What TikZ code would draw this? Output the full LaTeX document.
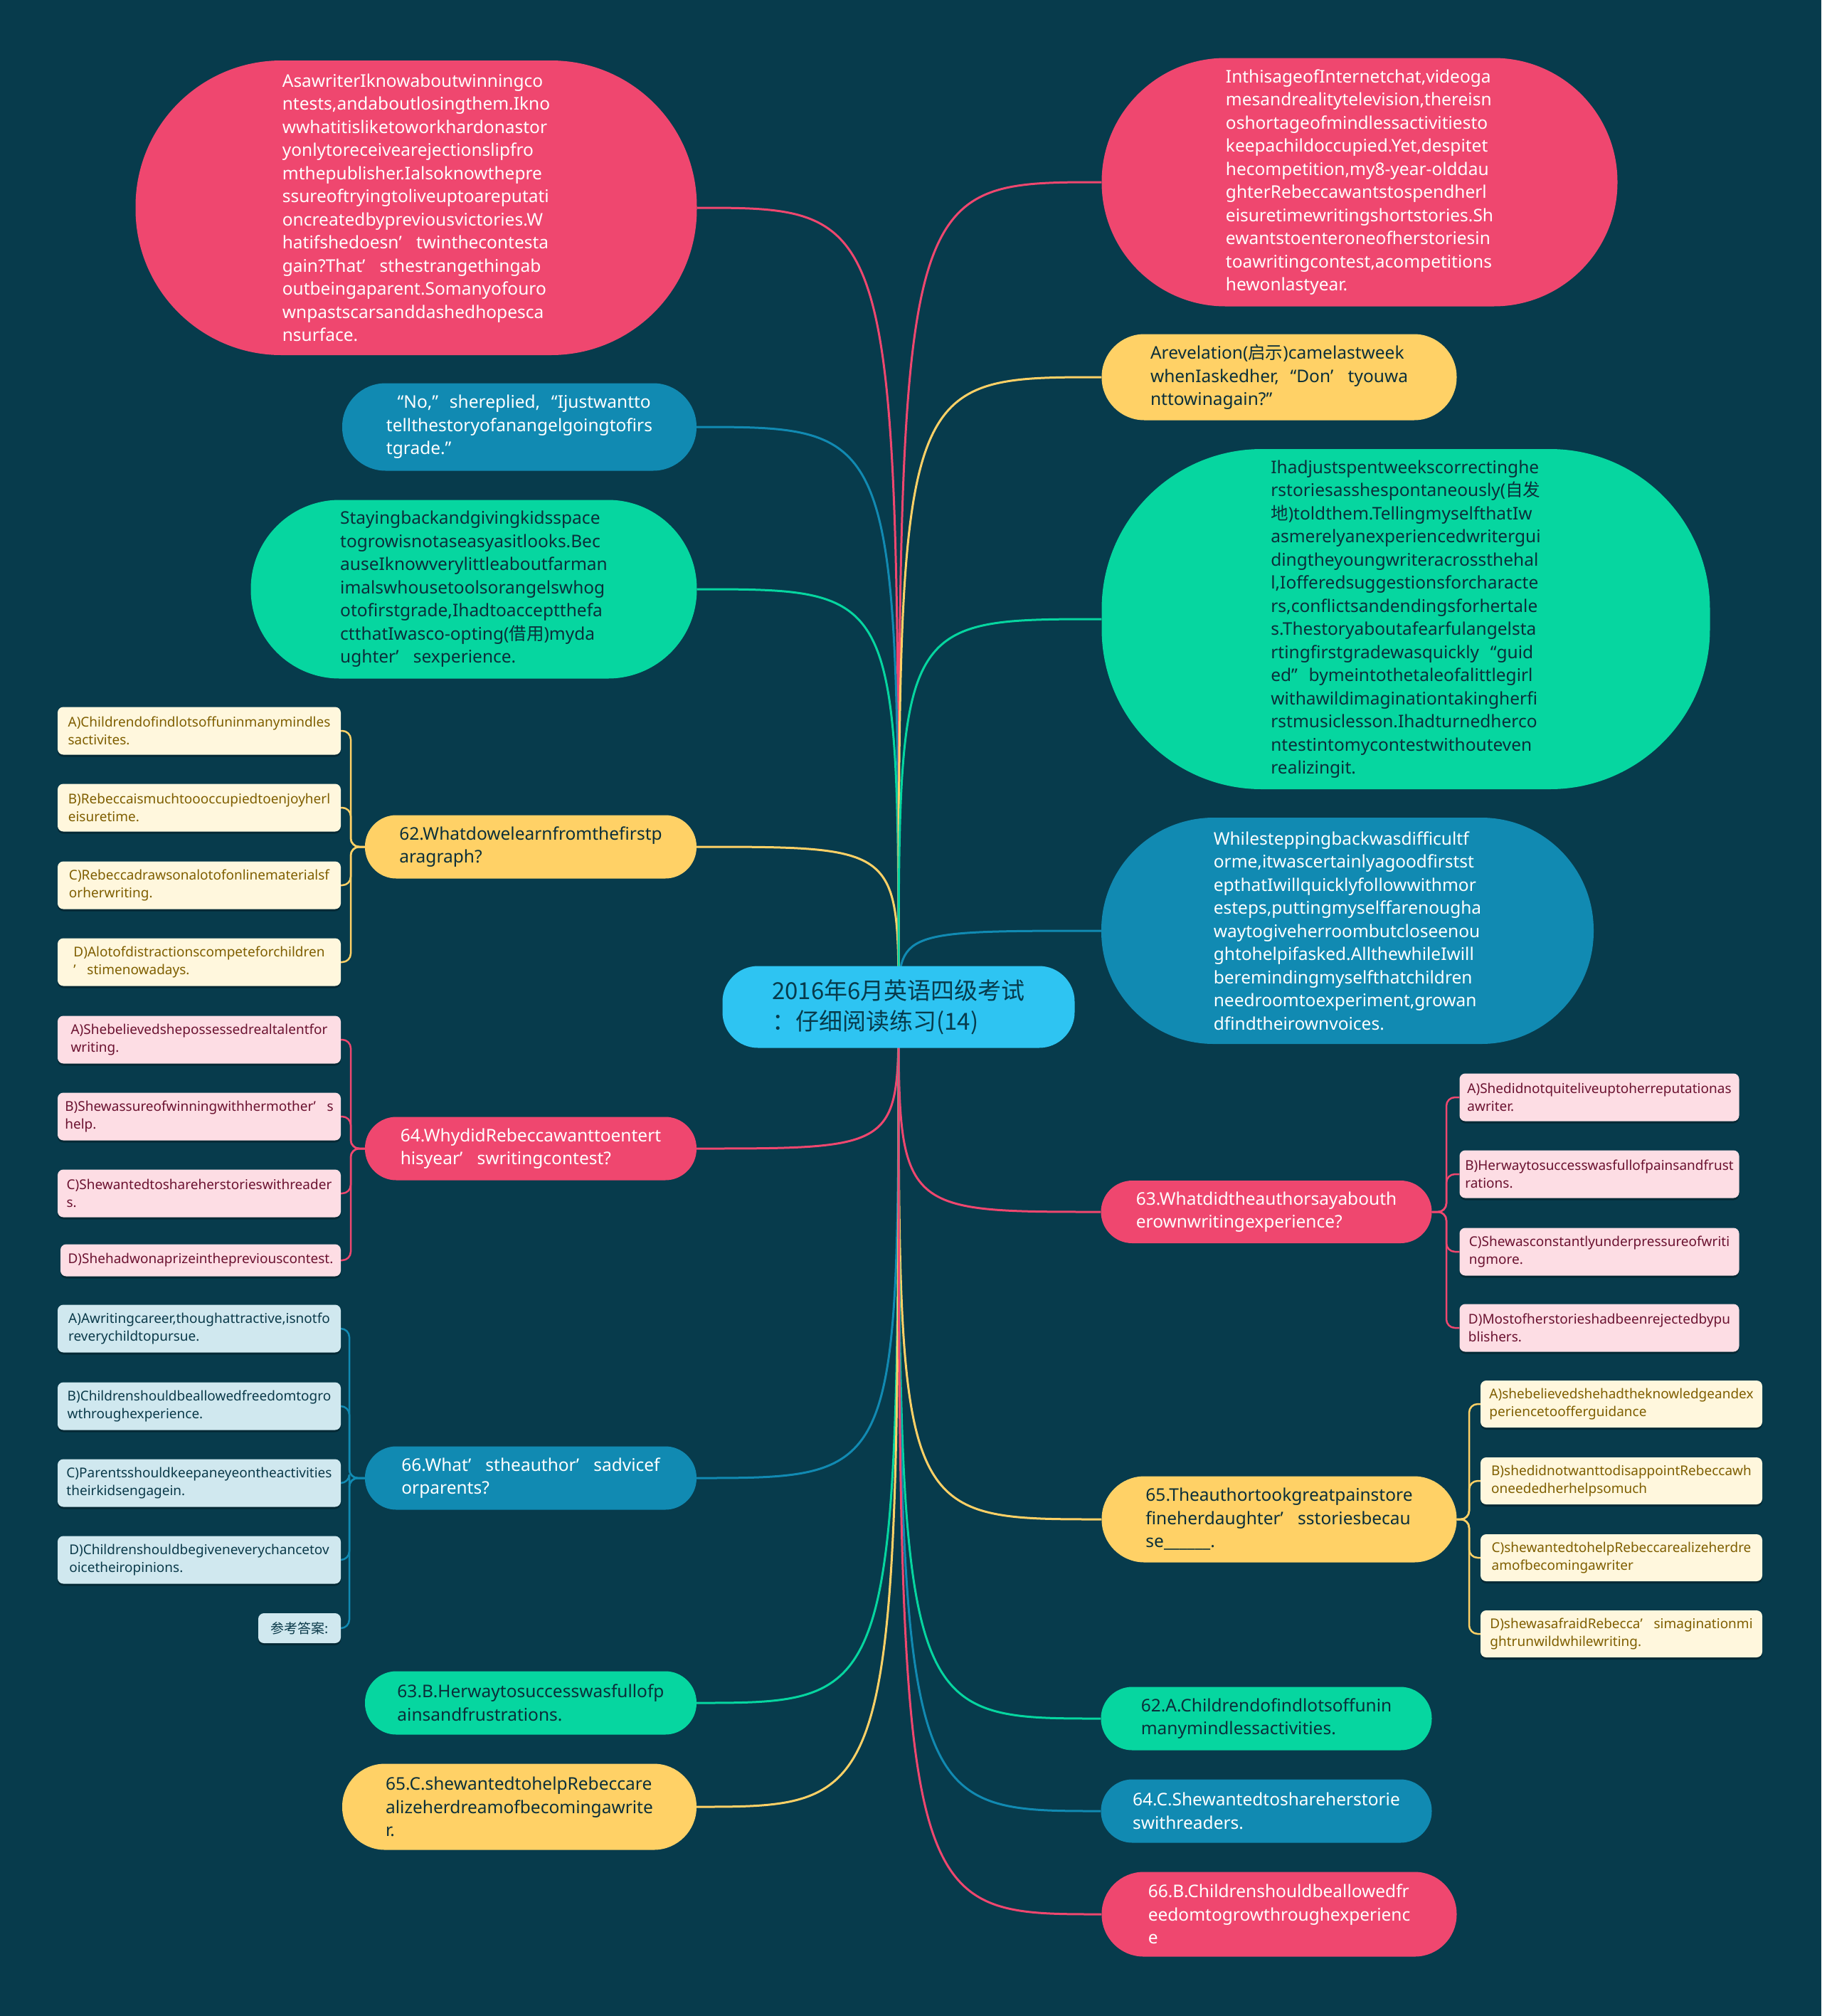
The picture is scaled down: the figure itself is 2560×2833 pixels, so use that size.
\documentclass[tikz,border=0pt]{standalone}
\usepackage{fontspec}
\setmainfont{Noto Sans}
\newfontfamily\cjk{Noto Sans CJK SC}
\usetikzlibrary{backgrounds,shadows}
\definecolor{bgc}{HTML}{073B4C}
\definecolor{pk}{HTML}{EF476F}
\definecolor{yl}{HTML}{FFD166}
\definecolor{gr}{HTML}{06D6A0}
\definecolor{bl}{HTML}{118AB2}
\definecolor{rt}{HTML}{2EC4F2}
\definecolor{pkl}{HTML}{FDDDE4}
\definecolor{yll}{HTML}{FFF7DD}
\definecolor{bll}{HTML}{D0E8EF}
\definecolor{darktxt}{HTML}{0B2F3A}
\definecolor{pkt}{HTML}{6B1230}
\definecolor{ylt}{HTML}{7F5E00}
\definecolor{blt}{HTML}{0B3A4A}
\newcommand\zap{\makebox[1em][l]{’}}
\newcommand\zlq{\makebox[1em][r]{“}}
\newcommand\zrq{\makebox[1em][l]{”}}
\tikzset{
  mainn/.style={shape=rectangle, inner sep=0pt, align=left, font=\fontsize{24.5}{32.5}\selectfont},
  pinkn/.style={mainn, fill=pk, text=white},
  yeln/.style={mainn, fill=yl, text=darktxt},
  grn/.style={mainn, fill=gr, text=darktxt},
  blun/.style={mainn, fill=bl, text=white},
  rootn/.style={shape=rectangle, inner sep=0pt, align=left, fill=rt, text=bgc, font=\cjk\fontsize{33}{43}\selectfont},
  opt/.style={shape=rectangle, rounded corners=8pt, inner sep=0pt, align=left, font=\fontsize{19}{25}\selectfont, minimum height=67pt, drop shadow={shadow xshift=0pt, shadow yshift=-3pt, opacity=.3, fill=black}},
  optp/.style={opt, fill=pkl, text=pkt},
  opty/.style={opt, fill=yll, text=ylt},
  optb/.style={opt, fill=bll, text=blt},
  conn/.style={line width=3pt},
  br/.style={line width=2.5pt, rounded corners=12pt}
}
\begin{document}
\begin{tikzpicture}[x=1pt,y=-1pt]
\useasboundingbox (0,0) rectangle (2560,2833);
% root
\node[rootn, minimum width=495pt, minimum height=115pt, rounded corners=50pt] (root) at (1263,1415) {2016年6月英语四级考试\\：仔细阅读练习(14)};
% left main nodes
\node[pinkn, minimum width=789pt, minimum height=414pt, rounded corners=205pt] (L1) at (585,292) {AsawriterIknowaboutwinningco\\ntests,andaboutlosingthem.Ikno\\wwhatitisliketoworkhardonastor\\yonlytoreceivearejectionslipfro\\mthepublisher.Ialsoknowthepre\\ssureoftryingtoliveuptoareputati\\oncreatedbypreviousvictories.W\\hatifshedoesn\zap twinthecontesta\\gain?That\zap sthestrangethingab\\outbeingaparent.Somanyofouro\\wnpastscarsanddashedhopesca\\nsurface.};
\node[blun, minimum width=498pt, minimum height=123pt, rounded corners=61pt] (L2) at (730,600) {\zlq No,\zrq shereplied,\zlq Ijustwantto\\tellthestoryofanangelgoingtofirs\\tgrade.\zrq};
\node[grn, minimum width=627pt, minimum height=251pt, rounded corners=125pt] (L3) at (666,828) {Stayingbackandgivingkidsspace\\togrowisnotaseasyasitlooks.Bec\\auseIknowverylittleaboutfarman\\imalswhousetoolsorangelswhog\\otofirstgrade,Ihadtoacceptthefa\\ctthatIwasco-opting({\cjk 借用})myda\\ughter\zap sexperience.};
\node[yeln, minimum width=466pt, minimum height=89pt, rounded corners=44pt] (L4) at (746,1190) {62.Whatdowelearnfromthefirstp\\aragraph?};
\node[pinkn, minimum width=466pt, minimum height=89pt, rounded corners=44pt] (L5) at (746,1614) {64.WhydidRebeccawanttoentert\\hisyear\zap swritingcontest?};
\node[blun, minimum width=466pt, minimum height=89pt, rounded corners=44pt] (L6) at (746,2077) {66.What\zap stheauthor\zap sadvicef\\orparents?};
\node[grn, minimum width=466pt, minimum height=89pt, rounded corners=44pt] (L7) at (746,2393) {63.B.Herwaytosuccesswasfullofp\\ainsandfrustrations.};
\node[yeln, minimum width=498pt, minimum height=121pt, rounded corners=60pt] (L8) at (730,2539) {65.C.shewantedtohelpRebeccare\\alizeherdreamofbecomingawrite\\r.};
% right main nodes
\node[pinkn, minimum width=725pt, minimum height=349pt, rounded corners=174pt] (R1) at (1911,256) {InthisageofInternetchat,videoga\\mesandrealitytelevision,thereisn\\oshortageofmindlessactivitiesto\\keepachildoccupied.Yet,despitet\\hecompetition,my8-year-olddau\\ghterRebeccawantstospendherl\\eisuretimewritingshortstories.Sh\\ewantstoenteroneofherstoriesin\\toawritingcontest,acompetitions\\hewonlastyear.};
\node[yeln, minimum width=499pt, minimum height=121pt, rounded corners=60pt] (R2) at (1798,530) {Arevelation({\cjk 启示})camelastweek\\whenIaskedher,\zlq Don\zap tyouwa\\nttowinagain?\zrq};
\node[grn, minimum width=855pt, minimum height=478pt, rounded corners=225pt] (R3) at (1976,870) {Ihadjustspentweekscorrectinghe\\rstoriesasshespontaneously({\cjk 自发}\\{\cjk 地})toldthem.TellingmyselfthatIw\\asmerelyanexperiencedwritergui\\dingtheyoungwriteracrossthehal\\l,Iofferedsuggestionsforcharacte\\rs,conflictsandendingsforhertale\\s.Thestoryaboutafearfulangelsta\\rtingfirstgradewasquickly\zlq guid\\ed\zrq bymeintothetaleofalittlegirl\\withawildimaginationtakingherfi\\rstmusiclesson.Ihadturnedherco\\ntestintomycontestwithouteven\\realizingit.};
\node[blun, minimum width=692pt, minimum height=318pt, rounded corners=158pt] (R4) at (1894,1308) {Whilesteppingbackwasdifficultf\\orme,itwascertainlyagoodfirstst\\epthatIwillquicklyfollowwithmor\\esteps,puttingmyselffarenougha\\waytogiveherroombutcloseenou\\ghtohelpifasked.AllthewhileIwill\\beremindingmyselfthatchildren\\needroomtoexperiment,growan\\dfindtheirownvoices.};
\node[pinkn, minimum width=465pt, minimum height=88pt, rounded corners=44pt] (R5) at (1780,1703) {63.Whatdidtheauthorsayabouth\\erownwritingexperience?};
\node[yeln, minimum width=499pt, minimum height=121pt, rounded corners=60pt] (R6) at (1798,2135) {65.Theauthortookgreatpainstore\\fineherdaughter\zap sstoriesbecau\\se\_\_\_\_\_\_.};
\node[grn, minimum width=465pt, minimum height=89pt, rounded corners=44pt] (R7) at (1780,2415) {62.A.Childrendofindlotsoffunin\\manymindlessactivities.};
\node[blun, minimum width=465pt, minimum height=89pt, rounded corners=44pt] (R8) at (1780,2545) {64.C.Shewantedtoshareherstorie\\swithreaders.};
\node[pinkn, minimum width=499pt, minimum height=119pt, rounded corners=59pt] (R9) at (1798,2690) {66.B.Childrenshouldbeallowedfr\\eedomtogrowthroughexperienc\\e};
% options 62
\node[opty, minimum width=398pt] (o62a) at (280,1027) {A)Childrendofindlotsoffuninmanymindles\\sactivites.};
\node[opty, minimum width=398pt] (o62b) at (280,1135) {B)Rebeccaismuchtoooccupiedtoenjoyherl\\eisuretime.};
\node[opty, minimum width=398pt] (o62c) at (280,1244) {C)Rebeccadrawsonalotofonlinematerialsf\\orherwriting.};
\node[opty, minimum width=398pt] (o62d) at (280,1352) {D)Alotofdistractionscompeteforchildren\\\zap stimenowadays.};
% options 64
\node[optp, minimum width=398pt] (o64a) at (280,1461) {A)Shebelievedshepossessedrealtalentfor\\writing.};
\node[optp, minimum width=398pt] (o64b) at (280,1569) {B)Shewassureofwinningwithhermother\zap s\\help.};
\node[optp, minimum width=398pt] (o64c) at (280,1677) {C)Shewantedtoshareherstorieswithreader\\s.};
\node[optp, minimum width=394pt, minimum height=45pt] (o64d) at (282,1771) {D)Shehadwonaprizeinthepreviouscontest.};
% options 66
\node[optb, minimum width=398pt] (o66a) at (280,1867) {A)Awritingcareer,thoughattractive,isnotfo\\reverychildtopursue.};
\node[optb, minimum width=398pt] (o66b) at (280,1976) {B)Childrenshouldbeallowedfreedomtogro\\wthroughexperience.};
\node[optb, minimum width=398pt] (o66c) at (280,2084) {C)Parentsshouldkeepaneyeontheactivities\\theirkidsengagein.};
\node[optb, minimum width=398pt] (o66d) at (280,2192) {D)Childrenshouldbegiveneverychancetov\\oicetheiropinions.};
\node[optb, minimum width=116pt, minimum height=42pt] (ans) at (421,2288) {{\cjk 参考答案:}};
% options 63
\node[optp, minimum width=393pt] (o63a) at (2248,1542) {A)Shedidnotquiteliveuptoherreputationas\\awriter.};
\node[optp, minimum width=393pt] (o63b) at (2248,1650) {B)Herwaytosuccesswasfullofpainsandfrust\\rations.};
\node[optp, minimum width=393pt] (o63c) at (2248,1759) {C)Shewasconstantlyunderpressureofwriti\\ngmore.};
\node[optp, minimum width=393pt] (o63d) at (2248,1866) {D)Mostofherstorieshadbeenrejectedbypu\\blishers.};
% options 65
\node[opty, minimum width=396pt, minimum height=66pt] (o65a) at (2279,1973) {A)shebelievedshehadtheknowledgeandex\\periencetoofferguidance};
\node[opty, minimum width=396pt, minimum height=66pt] (o65b) at (2279,2081) {B)shedidnotwanttodisappointRebeccawh\\oneededherhelpsomuch};
\node[opty, minimum width=396pt, minimum height=66pt] (o65c) at (2279,2189) {C)shewantedtohelpRebeccarealizeherdre\\amofbecomingawriter};
\node[opty, minimum width=396pt, minimum height=66pt] (o65d) at (2279,2296) {D)shewasafraidRebecca\zap simaginationmi\\ghtrunwildwhilewriting.};
% bracket junctions
\coordinate (b62) at (493,1190);
\coordinate (b64) at (493,1614);
\coordinate (b66) at (491,2077);
\coordinate (b63) at (2033,1703);
\coordinate (b65) at (2065,2135);
\begin{scope}[on background layer]
\fill[bgc] (0,0) rectangle (2560,2833);
\foreach \n/\c in {L1/pk, L2/bl, L3/gr, L4/yl, L5/pk, L6/bl, L7/gr, L8/yl}
  \draw[conn, draw=\c] (root.center) .. controls (root.center |- \n.east) .. (\n.east);
\foreach \n/\c in {R1/pk, R2/yl, R3/gr, R4/bl, R5/pk, R6/yl, R7/gr, R8/bl, R9/pk}
  \draw[conn, draw=\c] (root.center) .. controls (root.center |- \n.west) .. (\n.west);
\foreach \o in {o62a,o62b,o62c,o62d}
  \draw[br, draw=yl] (\o.east) -| (b62) -- (L4.west);
\foreach \o in {o64a,o64b,o64c,o64d}
  \draw[br, draw=pk] (\o.east) -| (b64) -- (L5.west);
\foreach \o in {o66a,o66b,o66c,o66d,ans}
  \draw[br, draw=bl] (\o.east) -| (b66) -- (L6.west);
\foreach \o in {o63a,o63b,o63c,o63d}
  \draw[br, draw=pk] (\o.west) -| (b63) -- (R5.east);
\foreach \o in {o65a,o65b,o65c,o65d}
  \draw[br, draw=yl] (\o.west) -| (b65) -- (R6.east);
\end{scope}
\end{tikzpicture}
\end{document}
